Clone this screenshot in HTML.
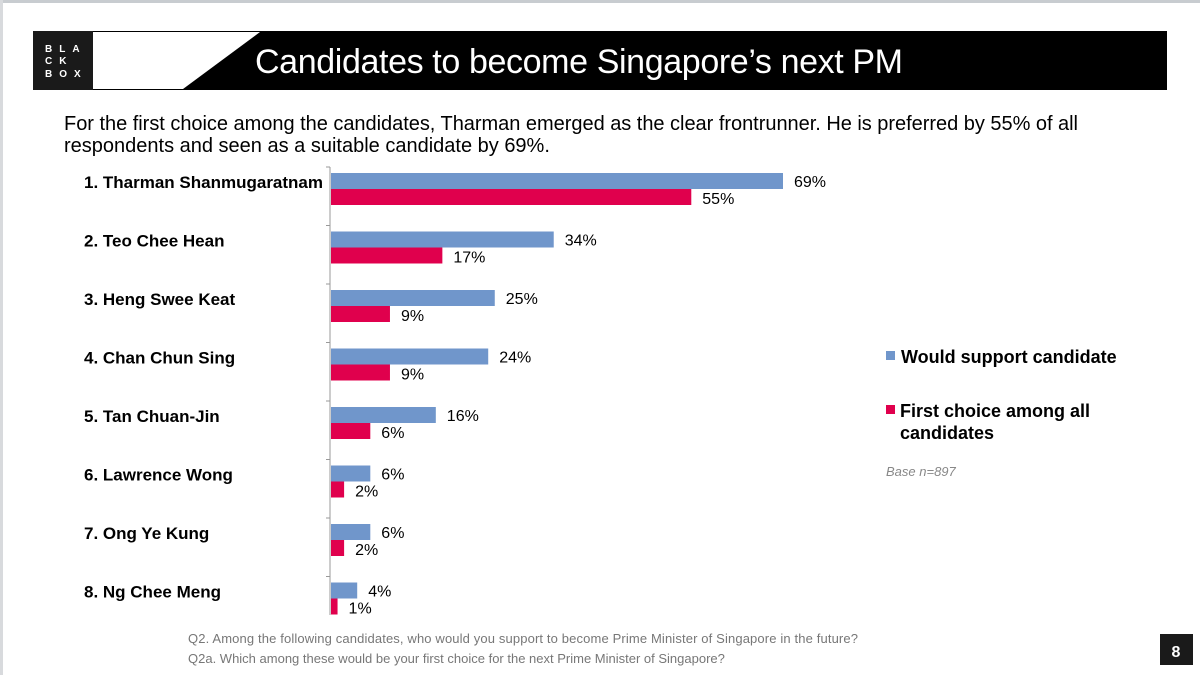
<!DOCTYPE html>
<html><head><meta charset="utf-8"><style>
body{margin:0;width:1200px;height:675px;overflow:hidden;background:#fff;font-family:"Liberation Sans",Arial,sans-serif}
</style></head><body>
<svg width="1200" height="675" viewBox="0 0 1200 675" xmlns="http://www.w3.org/2000/svg" font-family="Liberation Sans, Arial, sans-serif">
<rect x="0" y="0" width="1200" height="3" fill="#c8ccd0"/>
<rect x="0" y="0" width="3" height="675" fill="#d8dadd"/>
<g>
<rect x="33" y="31" width="1134" height="59" fill="#000"/>
<polygon points="93,32 260,32 183,89 93,89" fill="#fff"/>
<rect x="33" y="31" width="60" height="59" fill="#1a1a1a"/>
<text x="45" y="52" fill="#fff" font-size="10" font-weight="bold" letter-spacing="7">BLA</text>
<text x="45" y="64" fill="#fff" font-size="10" font-weight="bold" letter-spacing="7">CK</text>
<text x="45" y="77" fill="#fff" font-size="10" font-weight="bold" letter-spacing="7">BOX</text>
<text x="579" y="73" fill="#fff" font-size="34" text-anchor="middle" textLength="648">Candidates to become Singapore’s next PM</text>
</g>
<text x="64" y="130" font-size="20" fill="#000" textLength="1014">For the first choice among the candidates, Tharman emerged as the clear frontrunner. He is preferred by 55% of all</text>
<text x="64" y="152" font-size="20" fill="#000">respondents and seen as a suitable candidate by 69%.</text>
<g id="chart"></g>
<g>
<rect x="886" y="351" width="9" height="9" fill="#7096cb"/>
<text x="901" y="363" font-size="18" font-weight="bold">Would support candidate</text>
<rect x="886" y="405" width="9" height="9" fill="#e0004d"/>
<text x="900" y="417" font-size="18" font-weight="bold">First choice among all</text>
<text x="900" y="439" font-size="18" font-weight="bold">candidates</text>
<text x="886" y="476" font-size="13" font-style="italic" fill="#888">Base n=897</text>
</g>
<text x="188" y="643" font-size="13" fill="#777" textLength="670">Q2. Among the following candidates, who would you support to become Prime Minister of Singapore in the future?</text>
<text x="188" y="663" font-size="13" fill="#777">Q2a. Which among these would be your first choice for the next Prime Minister of Singapore?</text>
<rect x="1160" y="634" width="33" height="31" fill="#1a1a1a"/>
<text x="1176" y="657" font-size="16" font-weight="bold" fill="#fff" text-anchor="middle">8</text>
</svg>
<script>
const categories=["1. Tharman Shanmugaratnam","2. Teo Chee Hean","3. Heng Swee Keat","4. Chan Chun Sing","5. Tan Chuan-Jin","6. Lawrence Wong","7. Ong Ye Kung","8. Ng Chee Meng"];
const supportValues=[69,34,25,24,16,6,6,4];
const firstChoiceValues=[55,17,9,9,6,2,2,1];
const NS="http://www.w3.org/2000/svg";
const g=document.getElementById('chart');
const x0=330,pxPer=452/69,top0=167,band=58.5,barH=16;
const xs=v=>x0+v*pxPer;
const yb=i=>top0+i*band+6;
function mk(t,a){const e=document.createElementNS(NS,t);for(const k in a)e.setAttribute(k,a[k]);g.appendChild(e);return e;}
const ax=mk('line',{x1:x0,y1:top0,x2:x0,y2:615,stroke:'#999','stroke-width':1});


categories.forEach((c,i)=>{
 const tk=mk('line',{x1:x0-4,x2:x0,y1:top0+i*band,y2:top0+i*band,stroke:'#999'});
 
 
 const y=yb(i);
 const lb=mk('text',{x:84,y:y+15,'font-size':17,'font-weight':'bold'});lb.textContent=c;
 
 
 const b1=mk('rect',{x:x0+1,y:y,width:xs(supportValues[i])-x0,height:barH,fill:'#7096cb'});
 
 
 const b2=mk('rect',{x:x0+1,y:y+barH,width:xs(firstChoiceValues[i])-x0,height:barH,fill:'#e0004d'});
 
 
 const t1=mk('text',{x:xs(supportValues[i])+12,y:y+14,'font-size':16});t1.textContent=supportValues[i]+'%';
 
 
 const t2=mk('text',{x:xs(firstChoiceValues[i])+12,y:y+barH+15,'font-size':16});t2.textContent=firstChoiceValues[i]+'%';
 
 
});
</script>
</body></html>
